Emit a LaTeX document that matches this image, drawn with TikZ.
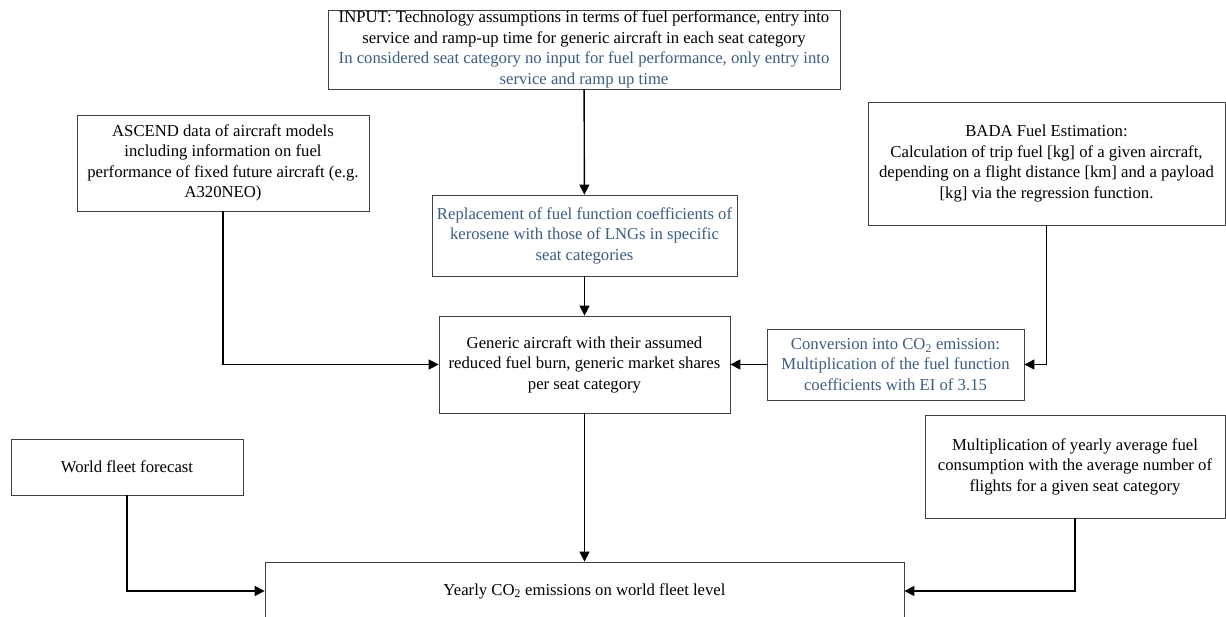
\documentclass[tikz,border=0pt]{standalone}
\usepackage{fontspec}
\setmainfont{Liberation Serif}
\usetikzlibrary{arrows.meta}
\definecolor{noteblue}{RGB}{62,92,130}
\begin{document}
\begin{tikzpicture}[x=1pt,y=-1pt,
       box/.style={draw=black!75,line width=0.8pt,inner sep=1pt,align=center,font=\fontsize{16.7}{20.5}\selectfont},
       note/.style={box,text=noteblue},
       arr/.style={line width=1.4pt,-{Triangle[length=10pt,width=10pt]}}]
       \useasboundingbox (0,0) rectangle (1226,616);
       \node[box, minimum width=512, minimum height=79] (top) at (584,49.5) {INPUT: Technology assumptions in terms of fuel performance, entry into\\ service and ramp-up time for generic aircraft in each seat category\\ \textcolor{noteblue}{In considered seat category no input for fuel performance, only entry into}\\ \textcolor{noteblue}{service and ramp up time}};
       \node[box, minimum width=292, minimum height=96] (ascend) at (223,163) {ASCEND data of aircraft models\\ including information on fuel\\ performance of fixed future aircraft (e.g.\\ A320NEO)};
       \node[box, minimum width=357, minimum height=123] (bada) at (1046.5,163.5) {BADA Fuel Estimation:\\ Calculation of trip fuel [kg] of a given aircraft,\\ depending on a flight distance [km] and a payload\\ {[kg]} via the regression function.};
       \node[note, minimum width=305, minimum height=81] (replace) at (584.5,235.5) {Replacement of fuel function coefficients of\\ kerosene with those of LNGs in specific\\ seat categories};
       \node[box, minimum width=291, minimum height=97] (generic) at (584.5,364.5) {Generic aircraft with their assumed\\ reduced fuel burn, generic market shares\\ per seat category};
       \node[note, minimum width=257, minimum height=71] (convert) at (895.5,364.5) {Conversion into CO\textsubscript{2} emission:\\ Multiplication of the fuel function\\ coefficients with EI of 3.15};
       \node[box, minimum width=232, minimum height=56] (world) at (127,467) {World fleet forecast};
       \node[box, minimum width=300, minimum height=103] (multi) at (1075,466.5) {Multiplication of yearly average fuel\\ consumption with the average number of\\ flights for a given seat category};
       \node[box, minimum width=639, minimum height=58] (yearly) at (584.5,591) {Yearly CO\textsubscript{2} emissions on world fleet level};

       \foreach \a/\b in {top/replace,replace/generic,convert/generic,generic/yearly}{\draw[arr] (\a) -- (\b); }
       \foreach \a/\b in {ascend/generic,bada/convert,world/yearly,multi/yearly}{\draw[arr] (\a) |- (\b); }
     \end{tikzpicture}
\end{document}
